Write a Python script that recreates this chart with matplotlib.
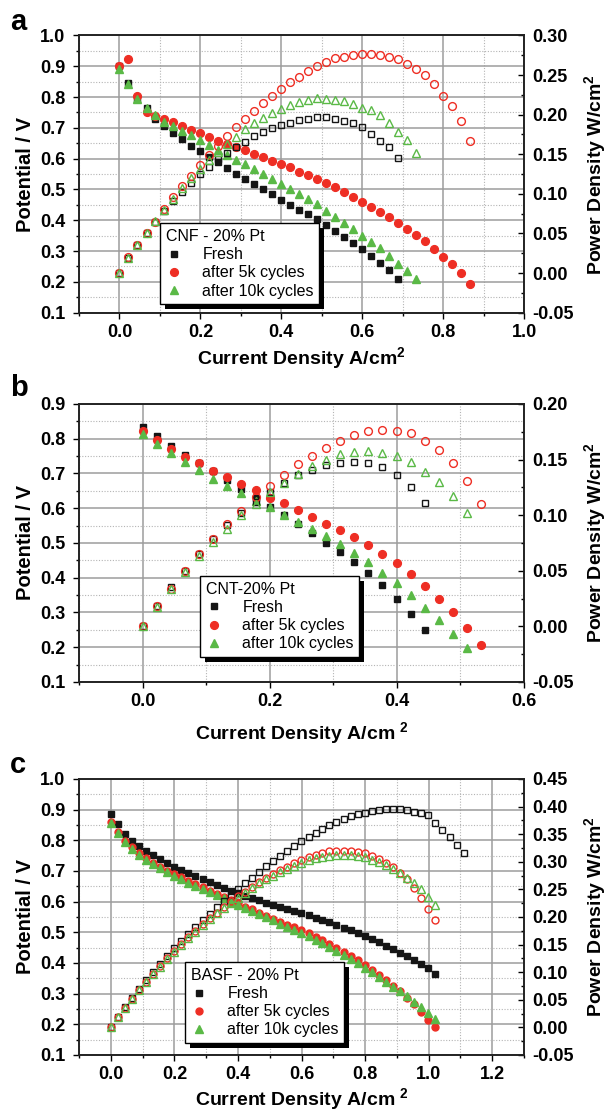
import matplotlib
matplotlib.use('Agg')
import matplotlib.pyplot as plt
from matplotlib.ticker import MultipleLocator, FormatStrFormatter
from matplotlib.patches import Rectangle

plt.rcParams['font.family'] = ['Liberation Sans', 'DejaVu Sans']
plt.rcParams['font.weight'] = 'bold'
plt.rcParams['axes.labelweight'] = 'bold'
plt.rcParams['mathtext.fontset'] = 'custom'
plt.rcParams['mathtext.rm'] = 'Liberation Sans:bold'
plt.rcParams['mathtext.bf'] = 'Liberation Sans:bold'
plt.rcParams['mathtext.default'] = 'rm'

BLACK = '#151515'
RED = '#ee2e24'
GREEN = '#5ab946'

# current density steps (A/cm2), shared by all three cells
current = [0.000, 0.022, 0.044, 0.067, 0.089, 0.111, 0.133, 0.155, 0.178, 0.200,
           0.222, 0.244, 0.266, 0.289, 0.311, 0.333, 0.355, 0.377, 0.400, 0.422,
           0.444, 0.466, 0.488, 0.511, 0.533, 0.555, 0.577, 0.599, 0.622, 0.644,
           0.666, 0.688, 0.710, 0.733, 0.755, 0.777, 0.799, 0.821, 0.844, 0.866,
           0.888, 0.910, 0.932, 0.955, 0.977, 0.999, 1.021, 1.043, 1.066, 1.088,
           1.110]

# ---- a : CNF - 20% Pt
fresh_v_a = [0.900, 0.846, 0.795, 0.763, 0.729, 0.705, 0.683, 0.664, 0.642, 0.624,
             0.605, 0.588, 0.570, 0.551, 0.534, 0.518, 0.501, 0.485, 0.467, 0.450,
             0.434, 0.419, 0.403, 0.385, 0.366, 0.346, 0.327, 0.307, 0.283, 0.260,
             0.238, 0.211]
fresh_p_a = [0.000, 0.019, 0.035, 0.051, 0.065, 0.078, 0.091, 0.103, 0.114, 0.125,
             0.134, 0.144, 0.152, 0.159, 0.166, 0.173, 0.178, 0.183, 0.187, 0.190,
             0.193, 0.195, 0.197, 0.197, 0.195, 0.192, 0.189, 0.184, 0.176, 0.167,
             0.159, 0.145]
k5_v_a = [0.900, 0.922, 0.802, 0.750, 0.737, 0.730, 0.720, 0.707, 0.694, 0.683,
          0.671, 0.659, 0.648, 0.638, 0.627, 0.615, 0.604, 0.593, 0.583, 0.572,
          0.558, 0.546, 0.534, 0.522, 0.508, 0.492, 0.477, 0.460, 0.444, 0.427,
          0.410, 0.392, 0.372, 0.352, 0.332, 0.307, 0.280, 0.257, 0.228, 0.193]
k5_p_a = [0.000, 0.020, 0.036, 0.050, 0.065, 0.081, 0.096, 0.110, 0.123, 0.137,
          0.149, 0.161, 0.173, 0.184, 0.195, 0.205, 0.215, 0.224, 0.233, 0.241,
          0.248, 0.255, 0.261, 0.267, 0.271, 0.273, 0.275, 0.276, 0.276, 0.275,
          0.273, 0.270, 0.264, 0.258, 0.250, 0.239, 0.224, 0.211, 0.192, 0.167]
k10_v_a = [0.891, 0.844, 0.794, 0.765, 0.741, 0.720, 0.707, 0.691, 0.676, 0.660,
           0.643, 0.627, 0.612, 0.597, 0.584, 0.567, 0.551, 0.534, 0.517, 0.502,
           0.486, 0.469, 0.452, 0.431, 0.410, 0.390, 0.371, 0.349, 0.331, 0.309,
           0.284, 0.258, 0.236, 0.208]
k10_p_a = [0.000, 0.019, 0.035, 0.051, 0.066, 0.080, 0.094, 0.107, 0.120, 0.132,
           0.143, 0.153, 0.163, 0.172, 0.182, 0.189, 0.196, 0.202, 0.207, 0.212,
           0.216, 0.219, 0.221, 0.220, 0.218, 0.217, 0.214, 0.209, 0.206, 0.199,
           0.189, 0.178, 0.168, 0.152]

# ---- b : CNT-20% Pt
fresh_v_b = [0.835, 0.808, 0.779, 0.752, 0.729, 0.707, 0.680, 0.654, 0.630, 0.603,
             0.581, 0.555, 0.528, 0.501, 0.473, 0.444, 0.414, 0.379, 0.340, 0.297,
             0.251]
fresh_p_b = [0.000, 0.018, 0.035, 0.050, 0.065, 0.079, 0.091, 0.102, 0.112, 0.121,
             0.129, 0.136, 0.141, 0.145, 0.147, 0.148, 0.147, 0.143, 0.136, 0.125,
             0.111]
k5_v_b = [0.822, 0.796, 0.771, 0.748, 0.729, 0.708, 0.689, 0.670, 0.652, 0.630,
          0.614, 0.596, 0.576, 0.555, 0.536, 0.517, 0.494, 0.469, 0.441, 0.412,
          0.377, 0.340, 0.300, 0.256, 0.206]
k5_p_b = [0.000, 0.018, 0.034, 0.050, 0.065, 0.079, 0.092, 0.104, 0.116, 0.126,
          0.136, 0.146, 0.153, 0.160, 0.167, 0.172, 0.176, 0.177, 0.176, 0.174,
          0.167, 0.159, 0.147, 0.131, 0.110]
k10_v_b = [0.813, 0.786, 0.758, 0.733, 0.709, 0.685, 0.663, 0.644, 0.620, 0.603,
           0.581, 0.560, 0.540, 0.519, 0.497, 0.471, 0.444, 0.414, 0.384, 0.350,
           0.313, 0.278, 0.239, 0.199]
k10_p_b = [0.000, 0.017, 0.034, 0.049, 0.063, 0.076, 0.088, 0.100, 0.110, 0.121,
           0.129, 0.137, 0.144, 0.150, 0.155, 0.157, 0.158, 0.156, 0.153, 0.148,
           0.139, 0.130, 0.117, 0.102]

# ---- c : BASF - 20% Pt
fresh_v_c = [0.885, 0.852, 0.820, 0.799, 0.782, 0.766, 0.751, 0.738, 0.725, 0.714,
             0.703, 0.692, 0.682, 0.673, 0.663, 0.654, 0.645, 0.636, 0.627, 0.619,
             0.611, 0.604, 0.597, 0.590, 0.584, 0.577, 0.570, 0.563, 0.555, 0.547,
             0.540, 0.532, 0.523, 0.515, 0.506, 0.497, 0.487, 0.477, 0.467, 0.456,
             0.445, 0.434, 0.423, 0.410, 0.397, 0.384, 0.365]
fresh_p_c = [0.000, 0.019, 0.036, 0.053, 0.069, 0.085, 0.100, 0.115, 0.129, 0.143,
             0.156, 0.169, 0.182, 0.194, 0.206, 0.218, 0.229, 0.240, 0.251, 0.261,
             0.271, 0.282, 0.292, 0.301, 0.311, 0.320, 0.329, 0.338, 0.345, 0.352,
             0.360, 0.366, 0.372, 0.377, 0.382, 0.386, 0.389, 0.392, 0.394, 0.395,
             0.395, 0.395, 0.394, 0.391, 0.388, 0.384, 0.371, 0.358, 0.345, 0.331,
             0.315]
k5_v_c = [0.859, 0.828, 0.799, 0.777, 0.758, 0.741, 0.727, 0.714, 0.701, 0.690,
          0.679, 0.668, 0.658, 0.647, 0.636, 0.625, 0.615, 0.605, 0.595, 0.584,
          0.575, 0.564, 0.553, 0.543, 0.534, 0.525, 0.516, 0.507, 0.497, 0.486,
          0.475, 0.463, 0.450, 0.437, 0.423, 0.409, 0.394, 0.378, 0.361, 0.344,
          0.326, 0.307, 0.287, 0.265, 0.240, 0.214, 0.190]
k5_p_c = [0.000, 0.018, 0.035, 0.052, 0.067, 0.082, 0.097, 0.111, 0.125, 0.138,
          0.151, 0.163, 0.175, 0.187, 0.198, 0.208, 0.218, 0.228, 0.238, 0.246,
          0.255, 0.263, 0.270, 0.277, 0.285, 0.291, 0.298, 0.304, 0.309, 0.313,
          0.316, 0.319, 0.320, 0.320, 0.319, 0.318, 0.315, 0.311, 0.305, 0.298,
          0.290, 0.279, 0.268, 0.253, 0.234, 0.214, 0.194]
k10_v_c = [0.855, 0.825, 0.796, 0.773, 0.752, 0.736, 0.722, 0.709, 0.695, 0.684,
           0.673, 0.662, 0.651, 0.641, 0.632, 0.622, 0.612, 0.600, 0.589, 0.579,
           0.570, 0.560, 0.549, 0.539, 0.527, 0.517, 0.507, 0.497, 0.487, 0.476,
           0.464, 0.452, 0.439, 0.426, 0.413, 0.399, 0.385, 0.370, 0.355, 0.339,
           0.323, 0.307, 0.291, 0.274, 0.256, 0.237, 0.216]
k10_p_c = [0.000, 0.018, 0.035, 0.052, 0.067, 0.082, 0.096, 0.110, 0.123, 0.137,
           0.149, 0.162, 0.173, 0.185, 0.196, 0.207, 0.217, 0.226, 0.235, 0.244,
           0.253, 0.261, 0.268, 0.275, 0.281, 0.287, 0.293, 0.298, 0.303, 0.306,
           0.309, 0.311, 0.312, 0.312, 0.312, 0.310, 0.308, 0.304, 0.300, 0.294,
           0.287, 0.279, 0.271, 0.262, 0.250, 0.237, 0.221]

labels = ['Fresh', 'after 5k cycles', 'after 10k cycles']

fig = plt.figure(figsize=(6.06, 11.12), dpi=100)
legends = []


def draw_panel(rect, letter, letter_y, fresh_v, fresh_p, k5_v, k5_p, k10_v, k10_p,
               xmax, vmax, pmax, title, leg_xy, xlabel, xlab_y, ms):
    ax = fig.add_axes(rect)
    ax2 = ax.twinx()

    h1, = ax.plot(current[:len(fresh_v)], fresh_v, ls='none', marker='s', ms=ms,
                  color=BLACK, mec=BLACK)
    h2, = ax.plot(current[:len(k5_v)], k5_v, ls='none', marker='o', ms=ms + 0.6,
                  color=RED, mec=RED)
    h3, = ax.plot(current[:len(k10_v)], k10_v, ls='none', marker='^', ms=ms + 1.1,
                  color=GREEN, mec=GREEN)

    ax2.plot(current[:len(fresh_p)], fresh_p, ls='none', marker='s', ms=ms,
             mfc='none', mec=BLACK, mew=1.0)
    ax2.plot(current[:len(k5_p)], k5_p, ls='none', marker='o', ms=ms + 0.6,
             mfc='none', mec=RED, mew=1.0)
    ax2.plot(current[:len(k10_p)], k10_p, ls='none', marker='^', ms=ms + 1.1,
             mfc='none', mec=GREEN, mew=1.0)

    ax.set_xlim(-0.1, xmax)
    ax.set_ylim(0.1, vmax)
    ax2.set_ylim(-0.05, pmax)

    ax.xaxis.set_major_locator(MultipleLocator(0.2))
    ax.xaxis.set_minor_locator(MultipleLocator(0.1))
    ax.yaxis.set_major_locator(MultipleLocator(0.1))
    ax.yaxis.set_minor_locator(MultipleLocator(0.05))
    ax2.yaxis.set_major_locator(MultipleLocator(0.05))
    ax2.yaxis.set_minor_locator(MultipleLocator(0.025))
    ax.xaxis.set_major_formatter(FormatStrFormatter('%.1f'))
    ax.yaxis.set_major_formatter(FormatStrFormatter('%.1f'))
    ax2.yaxis.set_major_formatter(FormatStrFormatter('%.2f'))

    ax.set_axisbelow(True)
    ax.grid(True, which='major', color='#9c9c9c', lw=1.1, ls='-')
    ax.grid(True, which='minor', color='#b4b4b4', lw=0.8, ls=(0, (1, 1.5)))

    ax.tick_params(axis='both', which='major', direction='out', length=4, width=1,
                   labelsize=13, pad=4)
    ax.tick_params(axis='both', which='minor', direction='out', length=2.5, width=1)
    ax.tick_params(axis='y', which='major', pad=6)
    ax2.tick_params(axis='y', which='major', direction='in', length=4, width=1,
                    labelsize=13, pad=6)
    ax2.tick_params(axis='y', which='minor', direction='in', length=2.5, width=1)

    for a in (ax, ax2):
        for s in a.spines.values():
            s.set_linewidth(1.2)
            s.set_color('#222222')

    ax.set_ylabel('Potential / V', fontsize=14.5, fontweight='bold')
    ax.yaxis.set_label_coords(-0.10, 0.5)
    ax2.set_ylabel('Power Density W/cm$^{2}$', fontsize=14, fontweight='bold')
    ax2.yaxis.set_label_coords(1.13, 0.5)
    ax.set_xlabel(xlabel, fontsize=14, fontweight='bold')
    ax.xaxis.set_label_coords(0.5, xlab_y)

    leg = ax2.legend([h1, h2, h3], labels, loc='lower left', bbox_to_anchor=leg_xy,
                     title=title, alignment='left', frameon=True, fancybox=False,
                     edgecolor='black', framealpha=1, borderpad=0.35,
                     labelspacing=0.2, handlelength=1.0, handletextpad=1.3,
                     borderaxespad=0, prop={'weight': 'normal', 'size': 11.5},
                     title_fontproperties={'weight': 'normal', 'size': 11.5})
    leg.get_frame().set_linewidth(1.0)
    leg.set_zorder(6)
    legends.append((ax2, leg))

    fig.text(0.016, letter_y, letter, fontsize=21, fontweight='bold', va='center')


draw_panel([0.1304, 0.7188, 0.7343, 0.2493], 'a', 1 - 22 / 1112,
           fresh_v_a, fresh_p_a, k5_v_a, k5_p_a, k10_v_a, k10_p_a,
           1.0, 1.0, 0.30, 'CNF - 20% Pt', (0.182, 0.031),
           'Current Density A/cm$^{2}$', -0.118, 5.0)
draw_panel([0.1304, 0.3867, 0.7343, 0.2500], 'b', 1 - 388 / 1112,
           fresh_v_b, fresh_p_b, k5_v_b, k5_p_b, k10_v_b, k10_p_b,
           0.6, 0.9, 0.20, 'CNT-20% Pt', (0.272, 0.09),
           'Current Density A/cm $^{2}$', -0.137, 5.0)
draw_panel([0.1304, 0.0513, 0.7343, 0.2482], 'c', 1 - 765 / 1112,
           fresh_v_c, fresh_p_c, k5_v_c, k5_p_c, k10_v_c, k10_p_c,
           1.3, 1.0, 0.45, 'BASF - 20% Pt', (0.238, 0.043),
           'Current Density A/cm $^{2}$', -0.112, 4.4)

# black drop shadow behind each legend box
fig.canvas.draw()
for ax2, leg in legends:
    bb = leg.get_window_extent()
    sh = Rectangle((bb.x0 + 5, bb.y0 - 5), bb.width, bb.height, transform=None,
                   facecolor='black', edgecolor='none', zorder=5.5, clip_on=False)
    ax2.add_artist(sh)

fig.savefig('out.png', dpi=100)
